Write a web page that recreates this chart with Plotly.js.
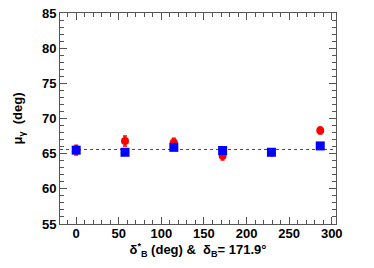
<!DOCTYPE html>
<html><head><meta charset="utf-8">
<script src="https://cdn.plot.ly/plotly-3.0.1.min.js"></script>
<style>html,body{margin:0;padding:0;background:#fff;}#c{width:374px;height:268px;}</style>
</head><body><div id="c"></div>
<script>
const deltaStar = [0, 57.3, 114.6, 171.9, 229.2, 286.5];
const redMu = [65.5, 66.8, 66.6, 64.7, 65.2, 68.3];
const redErr = [0.7, 0.7, 0.6, 0.6, 0.5, 0.5];
const blueMu = [65.5, 65.2, 65.9, 65.45, 65.2, 66.1];
const blueErr = [0.3, 0.3, 0.3, 0.3, 0.3, 0.3];
const refLine = 65.6;

const font = {family: 'Liberation Sans, Arial, sans-serif', size: 13, color: '#000'};
const traces = [
  {x: deltaStar, y: redMu, type: 'scatter', mode: 'markers',
   marker: {color: '#ff0000', size: 8, symbol: 'circle'},
   error_y: {type: 'data', array: redErr, visible: true, color: '#ff0000', thickness: 1.5, width: 2}},
  {x: deltaStar, y: blueMu, type: 'scatter', mode: 'markers',
   marker: {color: '#0000ff', size: 9, symbol: 'square'},
   error_y: {type: 'data', array: blueErr, visible: true, color: '#0000ff', thickness: 1.5, width: 0}}
];
const axCommon = {showgrid: false, zeroline: false, showline: true, linecolor: '#555', linewidth: 1,
  mirror: 'ticks', ticks: 'inside', ticklen: 7, tickcolor: '#555', tickfont: {family: font.family, size: 13, color: '#000', weight: 'bold'}};
const layout = {
  width: 374, height: 268,
  margin: {l: 60, r: 38, t: 13, b: 44},
  paper_bgcolor: '#fff', plot_bgcolor: '#fff',
  showlegend: false,
  font: font,
  xaxis: Object.assign({}, axCommon, {range: [-19, 305], dtick: 50, tick0: 0, ticklabelstandoff: -3,
    minor: {dtick: 10, ticks: 'inside', ticklen: 4, tickcolor: '#555'},
    title: {text: 'δ<sup>*</sup><sub>B</sub> (deg) &  δ<sub>B</sub>= 171.9°', standoff: 0,
      font: {family: font.family, size: 13, color: '#000', weight: 'bold'}}}),
  yaxis: Object.assign({}, axCommon, {range: [55, 85], dtick: 5, tick0: 55,
    minor: {dtick: 1, ticks: 'inside', ticklen: 4, tickcolor: '#555'},
    title: {text: 'μ<sub>γ</sub>  (deg)', standoff: 16,
      font: {family: font.family, size: 13, color: '#000', weight: 'bold'}}}),
  shapes: [{type: 'line', xref: 'paper', x0: 0, x1: 1, yref: 'y', y0: refLine, y1: refLine,
    line: {color: '#444', width: 1, dash: 'dot'}, layer: 'below'}]
};
Plotly.newPlot('c', traces, layout, {staticPlot: true, displayModeBar: false});
</script></body></html>
